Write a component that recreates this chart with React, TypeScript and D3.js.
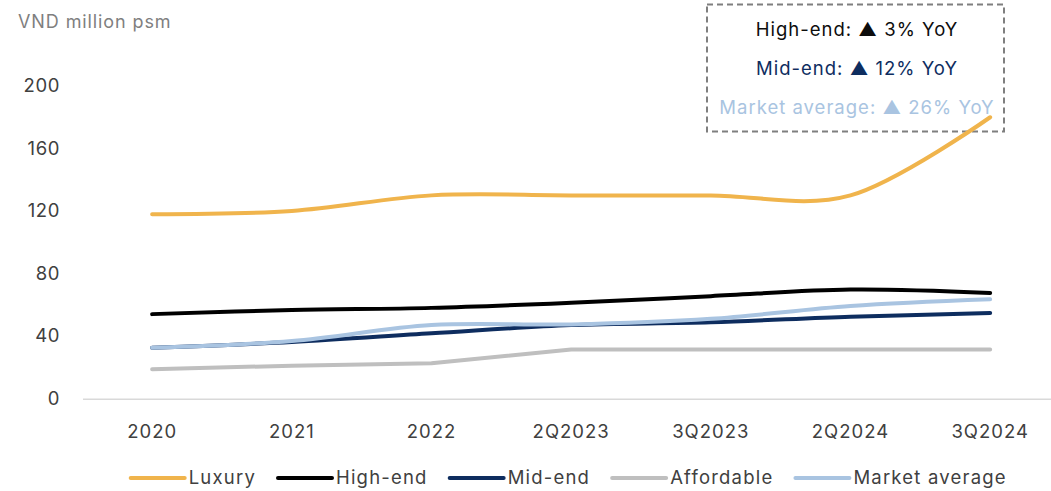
import React, { useEffect, useRef } from "react";
import * as d3 from "d3";

const categories = ["2020", "2021", "2022", "2Q2023", "3Q2023", "2Q2024", "3Q2024"];
const luxury = [118, 120, 130, 130, 130, 130, 180];
const highEnd = [54, 56.6, 58, 61.3, 65.5, 69.7, 67.5];
const midEnd = [32.5, 36.2, 41.7, 47, 48.8, 52.3, 54.7];
const affordable = [18.7, 21, 22.5, 31.4, 31.4, 31.4, 31.4];
const marketAverage = [32.5, 36.8, 47, 47.4, 51, 59.2, 63.5];
const yTicks = [0, 40, 80, 120, 160, 200];

const seriesNames = ["Luxury", "High-end", "Mid-end", "Affordable", "Market average"];
const seriesColors = ["#F0B44C", "#000000", "#0E2D5F", "#BFBFBF", "#A9C4E1"];
const seriesSmooth = [true, true, true, false, true];

const noteLines = ["High-end: ▲ 3% YoY", "Mid-end: ▲ 12% YoY", "Market average: ▲ 26% YoY"];
const noteColors = ["#0D0D0D", "#0E2D5F", "#A9C4E1"];

const W = 1051;
const H = 491;
const FONT = "Inter, 'Noto Sans', sans-serif";

export default function App() {
  const ref = useRef<SVGSVGElement | null>(null);

  useEffect(() => {
    const svg = d3.select(ref.current);
    svg.selectAll("*").remove();

    const x = d3.scalePoint<string>().domain(categories).range([82.3, 1060]).padding(0.5);
    const y = d3.scaleLinear().domain([0, 200]).range([398.5, 86]);

    const data = [luxury, highEnd, midEnd, affordable, marketAverage];

    // unit label
    svg.append("text")
      .attr("x", 18).attr("y", 28)
      .attr("font-family", FONT).attr("font-size", 18)
      .attr("letter-spacing", 0.9)
      .attr("fill", "#7F7F7F")
      .text("VND million psm");

    // y tick labels
    svg.append("g").selectAll("text").data(yTicks).join("text")
      .attr("x", 60).attr("y", (d) => y(d))
      .attr("dy", "0.35em")
      .attr("text-anchor", "end")
      .attr("font-family", FONT).attr("font-size", 18.5)
      .attr("letter-spacing", 0.6)
      .attr("fill", "#404040")
      .text((d) => String(d));

    // x axis line
    svg.append("line")
      .attr("x1", 83).attr("x2", W)
      .attr("y1", 399.3).attr("y2", 399.3)
      .attr("stroke", "#D9D9D9").attr("stroke-width", 1.5);

    // x tick labels
    svg.append("g").selectAll("text").data(categories).join("text")
      .attr("x", (d) => x(d) as number).attr("y", 437.5)
      .attr("text-anchor", "middle")
      .attr("font-family", FONT).attr("font-size", 18.5)
      .attr("letter-spacing", 1)
      .attr("fill", "#404040")
      .text((d) => d);

    // annotation box
    svg.append("rect")
      .attr("x", 707).attr("y", 4.5).attr("width", 297).attr("height", 127)
      .attr("fill", "none")
      .attr("stroke", "#7F7F7F").attr("stroke-width", 2)
      .attr("stroke-dasharray", "6,4");

    svg.append("g").selectAll("text").data(noteLines).join("text")
      .attr("x", 857).attr("y", (_d, i) => 30 + i * 39)
      .attr("dy", "0.35em")
      .attr("text-anchor", "middle")
      .attr("font-family", FONT).attr("font-size", 18.5)
      .attr("letter-spacing", 1)
      .attr("fill", (_d, i) => noteColors[i])
      .text((d) => d);

    // lines
    const g = svg.append("g");
    data.forEach((vals, i) => {
      const line = d3.line<number>()
        .x((_d, j) => x(categories[j]) as number)
        .y((d) => y(d))
        .curve(seriesSmooth[i] ? d3.curveCatmullRom.alpha(0) : d3.curveLinear);
      g.append("path")
        .attr("d", line(vals))
        .attr("fill", "none")
        .attr("stroke", seriesColors[i])
        .attr("stroke-width", 4)
        .attr("stroke-linecap", "round")
        .attr("stroke-linejoin", "round");
    });

    // legend
    const lg = svg.append("g");
    let cx = 130.7;
    const ly = 478;
    seriesNames.forEach((name, i) => {
      lg.append("line")
        .attr("x1", cx).attr("x2", cx + 54)
        .attr("y1", ly).attr("y2", ly)
        .attr("stroke", seriesColors[i]).attr("stroke-width", 4)
        .attr("stroke-linecap", "round");
      const t = lg.append("text")
        .attr("x", cx + 58).attr("y", ly)
        .attr("dy", "0.35em")
        .attr("font-family", FONT).attr("font-size", 18.5)
        .attr("letter-spacing", 1.2)
        .attr("fill", "#404040")
        .text(name);
      const w = (t.node() as SVGTextElement).getComputedTextLength();
      cx = cx + 58 + w + 22;
    });
  }, []);

  return (
    <svg
      ref={ref}
      width={W}
      height={H}
      style={{ position: "absolute", left: 0, top: 0, background: "#fff" }}
    />
  );
}
